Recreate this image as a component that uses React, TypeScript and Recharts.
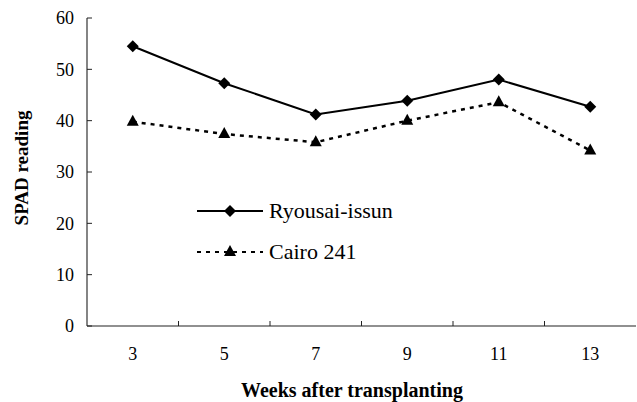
import { Label, Legend, Line, LineChart, XAxis, YAxis } from "recharts"

const weeks = [3, 5, 7, 9, 11, 13]
const ryousai = [54.5, 47.3, 41.2, 43.9, 48.0, 42.7]
const cairo = [39.8, 37.4, 35.8, 40.0, 43.6, 34.2]
const xTicks = [3, 4, 5, 6, 7, 8, 9, 10, 11, 12, 13]
const yTicks = [0, 10, 20, 30, 40, 50, 60]

const data = weeks.map((w, i) => ({ week: w, ryousai: ryousai[i], cairo: cairo[i] }))

const FONT = "Liberation Serif"

function Diamond({ cx, cy }: any) {
  if (cx == null || cy == null) return null
  return <path d={`M${cx},${cy - 6}L${cx + 6},${cy}L${cx},${cy + 6}L${cx - 6},${cy}Z`} fill="#000" />
}

function Triangle({ cx, cy }: any) {
  if (cx == null || cy == null) return null
  return <path d={`M${cx},${cy - 7}L${cx + 6},${cy + 4}L${cx - 6},${cy + 4}Z`} fill="#000" />
}

function XTick({ x, y, payload }: any) {
  const v = payload.value
  if (v % 2 === 0) {
    return <line x1={x} x2={x} y1={y} y2={y - 5} stroke="#222" strokeWidth={1} />
  }
  return (
    <text x={x} y={y + 34} textAnchor="middle" style={{ fontFamily: FONT }} fontSize={18} fill="#000">
      {v}
    </text>
  )
}

const legendItems = [
  { name: "Ryousai-issun", dash: undefined, Marker: Diamond },
  { name: "Cairo 241", dash: "4 5", Marker: Triangle },
]

function LegendBox() {
  return (
    <div>
      {legendItems.map((it) => (
        <div key={it.name} style={{ display: "flex", alignItems: "center", height: 41 }}>
          <svg width={72} height={20}>
            <line x1={0} x2={66} y1={10} y2={10} stroke="#000" strokeWidth={2} strokeDasharray={it.dash} />
            <it.Marker cx={33} cy={10} />
          </svg>
          <span style={{ fontFamily: FONT, fontSize: 22, color: "#000", lineHeight: "22px" }}>{it.name}</span>
        </div>
      ))}
    </div>
  )
}

export default function App() {
  return (
    <div style={{ position: "absolute", left: 0, top: 0, width: 637, height: 402, background: "#fff", fontFamily: FONT }}>
      <LineChart width={637} height={402} data={data} margin={{ top: 18, right: 1, left: 0, bottom: 0 }}>
        <XAxis
          dataKey="week"
          type="number"
          domain={[2, 14]}
          ticks={xTicks}
          interval={0}
          tickLine={false}
          tickSize={0}
          tickMargin={0}
          tick={<XTick />}
          axisLine={{ stroke: "#222", strokeWidth: 1.2 }}
          height={76}
        >
          <Label
            content={() => (
              <text x={352} y={397} textAnchor="middle" style={{ fontFamily: FONT }} fontSize={20} fontWeight="bold" fill="#000">
                Weeks after transplanting
              </text>
            )}
          />
        </XAxis>
        <YAxis
          domain={[0, 60]}
          ticks={yTicks}
          width={87}
          tickSize={-5}
          tickMargin={18}
          tickLine={{ stroke: "#222" }}
          axisLine={{ stroke: "#333", strokeWidth: 1.2 }}
          tick={{ fontSize: 18, fill: "#000", style: { fontFamily: FONT } }}
        >
          <Label
            content={() => (
              <text
                x={0}
                y={0}
                transform="translate(28,168) rotate(-90)"
                textAnchor="middle"
                style={{ fontFamily: FONT }}
                fontSize={19}
                fontWeight="bold"
                fill="#000"
              >
                SPAD reading
              </text>
            )}
          />
        </YAxis>
        <Legend
          layout="vertical"
          align="center"
          verticalAlign="middle"
          content={() => <LegendBox />}
          wrapperStyle={{ position: "absolute", left: 197, top: 190, width: 240 }}
        />
        <Line
          dataKey="ryousai"
          name="Ryousai-issun"
          stroke="#000"
          strokeWidth={2}
          dot={<Diamond />}
          activeDot={false}
          isAnimationActive={false}
        />
        <Line
          dataKey="cairo"
          name="Cairo 241"
          stroke="#000"
          strokeWidth={2.5}
          strokeDasharray="4 5"
          dot={<Triangle />}
          activeDot={false}
          isAnimationActive={false}
        />
      </LineChart>
    </div>
  )
}
